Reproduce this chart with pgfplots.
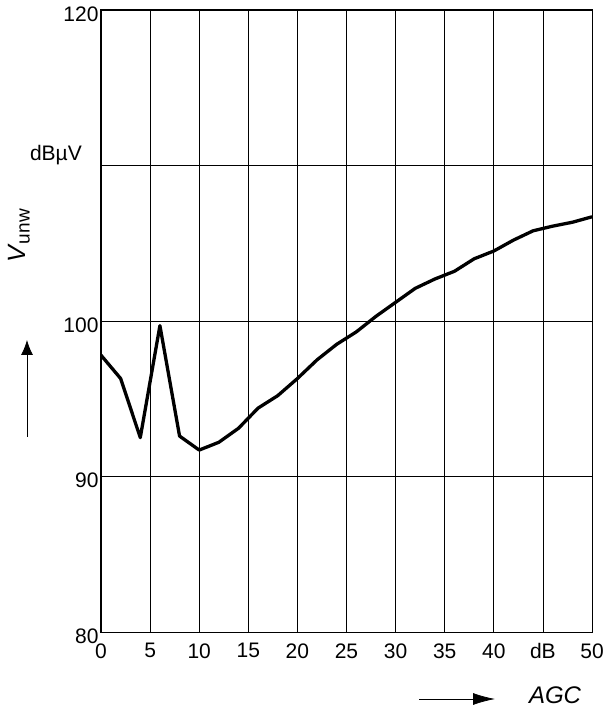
\documentclass[border=0pt]{standalone}
\usepackage{pgfplots}
\pgfplotsset{compat=1.18}
\usepackage{fontspec}
\setmainfont{Liberation Sans}
\usetikzlibrary{arrows.meta}
\begin{document}
\begin{tikzpicture}
\useasboundingbox (-101pt,-77pt) rectangle (506pt,632pt);
\begin{axis}[
 at={(0pt,0pt)}, anchor=south west,
 scale only axis, width=491pt, height=622pt,
 xmin=0,xmax=50,ymin=80,ymax=120,
 xtick={0,5,...,50}, ytick={80,90,100,110,120},
 xticklabels={0,5,10,15,20,25,30,35,40,dB,50},
 yticklabels={80,90,100,,120},
 grid=major, major grid style={black, line width=0.7pt},
 axis line style={black, line width=1pt},
 major tick length=0pt,
 tick label style={font=\fontsize{21}{25}\selectfont},
 xticklabel style={yshift=-8pt},
 yticklabel style={yshift=-4pt, xshift=1pt},
 /pgf/number format/assume math mode=true,
]
\addplot[black, line width=3.3pt, line join=round] coordinates {
(0,97.8) (2,96.3) (4,92.5) (6,99.7) (8,92.6) (10,91.7) (12,92.2) (14,93.1)
(16,94.4) (18,95.2) (20,96.3) (22,97.5) (24,98.5) (26,99.3) (28,100.3)
(30,101.2) (32,102.1) (34,102.7) (36,103.2) (38,104.0) (40,104.5)
(42,105.2) (44,105.8) (46,106.1) (48,106.35) (50,106.7)
};
\end{axis}
\node[anchor=base east, inner sep=0pt, font=\fontsize{21}{25}\selectfont] at (-19pt,471pt) {dBµV};
\node[rotate=90, inner sep=0pt] at (-82pt,396pt) {\fontsize{25}{28}\selectfont\textit{V}\raisebox{-4pt}{\fontsize{19}{20}\selectfont unw}};
\draw[line width=0.8pt, -{Latex[length=15pt,width=12pt]}] (-74pt,195pt) -- (-74pt,292pt);
\draw[line width=0.8pt, -{Latex[length=22pt,width=12pt]}] (318pt,-67pt) -- (394pt,-67pt);
\node[anchor=base, inner sep=0pt, font=\fontsize{24}{28}\selectfont\itshape] at (454pt,-71pt) {AGC};
\end{tikzpicture}
\end{document}
